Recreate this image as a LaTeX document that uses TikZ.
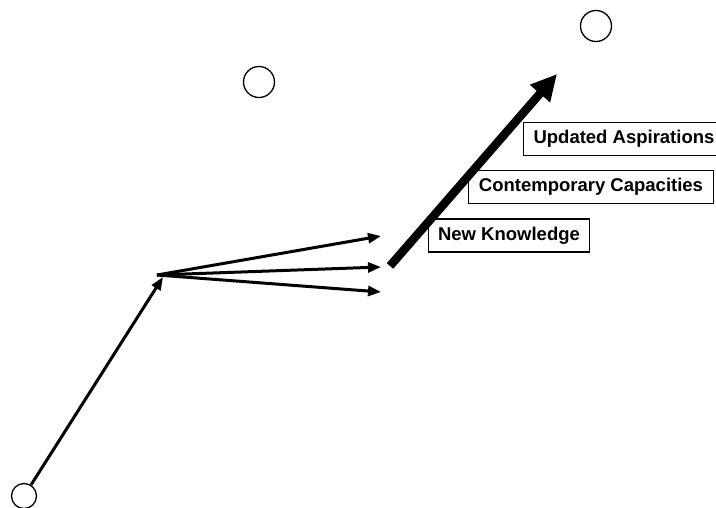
\documentclass[tikz,border=0pt]{standalone}
\usepackage{fontspec}
\setmainfont{Liberation Sans}
\usetikzlibrary{arrows.meta}
\begin{document}
\begin{tikzpicture}[x=1pt,y=-1pt,
  stage/.style={circle,draw,line width=1.3pt,minimum size=31pt,inner sep=0pt},
  label box/.style={draw,line width=1.1pt,inner xsep=10pt,minimum height=33pt,
    font=\bfseries\fontsize{18.5}{20}\selectfont},
  thin arrow/.style={line width=3pt,-{Triangle[length=13pt,width=10pt]}},
  big arrow/.style={line width=8.5pt,-{Triangle[length=26pt,width=25pt]}}]
\useasboundingbox (0,0) rectangle (716,507);
\clip (0,0) rectangle (716,507);

% stage markers
\node[stage,minimum size=25pt] (start) at (24,496) {};
\node[stage] (mid) at (259,82) {};
\node[stage] (goal) at (596,26) {};

% branching point and arrow ends
\coordinate (apex) at (163,277);
\coordinate (fanA) at (381,236);
\coordinate (fanB) at (381,267);
\coordinate (fanC) at (381,292);
\coordinate (riseFrom) at (390,266);
\coordinate (riseTo) at (557,74);

\draw[thin arrow] (start) -- (apex);
\draw[thin arrow] (157,275) -- (fanA);
\draw[thin arrow] (157,275) -- (fanB);
\draw[thin arrow] (157,275) -- (fanC);
\draw[big arrow] (riseFrom) -- (riseTo);

% labels
\node[label box] (know) at (509,235.5) {New Knowledge};
\node[label box] (cap) at (591,187) {Contemporary Capacities};
\node[label box] (asp) at (624,139) {Updated Aspirations};
\end{tikzpicture}
\end{document}
